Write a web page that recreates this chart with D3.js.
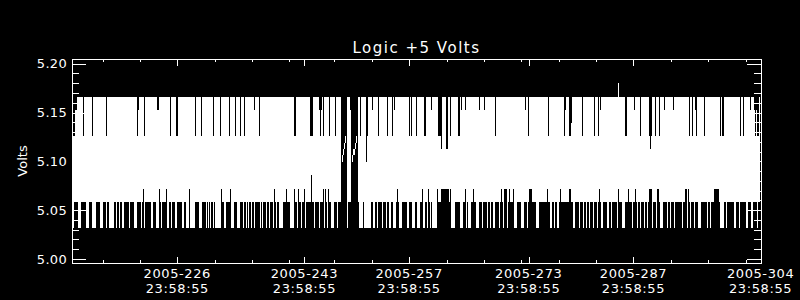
<!DOCTYPE html>
<html lang="en">
<head>
<meta charset="UTF-8">
<title>Logic +5 Volts</title>
<script src="https://d3js.org/d3.v7.min.js"></script>
<style>
  html, body { margin: 0; padding: 0; background: #000; }
  svg { display: block; background: #000; }
  text { fill: #fff; font-family: 'DejaVu Sans', sans-serif; }
  .axis line { stroke: #fff; shape-rendering: crispEdges; }
</style>
</head>
<body>
<svg id="chart" width="800" height="300"></svg>
<script>
const chartTitle = "Logic +5 Volts";
const yTitle = "Volts";

// y ticks (volts)
const yTicks = [5.00, 5.05, 5.10, 5.15, 5.20];
const yMinorTicks = [5.01, 5.02, 5.03, 5.04, 5.06, 5.07, 5.08, 5.09,
                     5.11, 5.12, 5.13, 5.14, 5.16, 5.17, 5.18, 5.19];

// x ticks (day of year 2005, fractional)
const xTicks = [226.999, 243.999, 257.999, 273.999, 287.999, 304.999];
const xTickDates = ["2005-226", "2005-243", "2005-257", "2005-273", "2005-287", "2005-304"];
const xTickTimes = ["23:58:55", "23:58:55", "23:58:55", "23:58:55", "23:58:55", "23:58:55"];
const xMinorTicks = [217, 222, 232, 237, 242, 248, 253, 263, 268, 273, 278, 283, 293, 298, 303];

// A/D quantisation levels of the +5 V monitor and their codes
const levelCodes = ["0", "1", "2", "3", "4", "5", "6", "7", "8", "9", "a", "b", "p", "q", "r"];
const levelVolts = [5.032, 5.045, 5.058, 5.072, 5.086, 5.099, 5.113, 5.126, 5.139, 5.153, 5.166, 5.180,
                    5.092, 5.106, 5.119];

// binned samples: one bin per ~3.2 h, first bin centre and width in days
const binStart = 213.1206;
const binWidth = 0.13372;

// highest reading in each bin ("." = no data)
const binMax = (
  "7799aaaaaa 7aaaaaaaa7 aaaaaaaaaa aaa7aaaaaa aaaaaaaaaa aaaaaaaaaa aaaa79aaaa a7aaaaaaaa " +
  "aaaa99aaaa aaaaaaa7aa aaa77aaaaa aaaaaaaaaa aa7aaaaa7a aaaaaaaaaa 7aaaaaa7aa aaaaaa7aaa " +
  "aa7aaaa7aa a7aaaaaaaa a9aaaa7aaa aaaaaaaaaa aaaaaaaaaa aaaaaaaaaa a77aaaaaaa aaaaaaa777 " +
  "aaaaaa979a 7aaaaa7aaa aa7aaaaa.q 6r7.aaa9.q 66r7.aa7aa aaa57aaaa9 aaaaa7aaaa aaaa7aaaa7 " +
  "a9aaaaaaaa aaaaaa7a7a aaa7aaaaaa a77aaaaa9a aaaaa7776a aaa66aa7aa aaaaa77a9a aa9aaaaaaa " +
  "aaaaaa9aaa a9aaaaaaaa aa7aaaaaaa aaaaaaaaaa aaaaaaaaaa aa9aa7aaaa aaaaaaaaaa aaaaa7aaaa " +
  "aaaaaaaaaa a79aaa778a aaaaaaaaa7 aaaaaaaaaa a7aaa7a9aa aaaaaaaaaa aaaaabaaaa aa77aaaaaa " +
  "a9aaaaa7aa aaaaaa767a aa7aaa7aaa a9aaaaaaaa 9aaaaaaaaa aaaaaa7aa7 aa97aaaaaa a7aaaaaaaa " +
  "aaaaaaa7a7 7aaaaaaaaa aaaaaaa7aa 7aaaaaa9aa a97977a"
).replace(/ /g, "");

// lowest reading in each bin ("." = no data)
const binMin = (
  "0222200022 2220002220 0002222000 2220220000 0220220220 0222220222 2000222202 3022222200 " +
  "2220003202 2223002202 2200222220 0220003000 0022220002 2220202022 0200000032 2002222300 " +
  "0222000222 0220202202 2022222020 2220220222 0320220000 2223222000 0322032202 2302222242 " +
  "2022220222 3032032200 02220222.5 q6r.0222.5 qq6r.20000 2000000022 0022022220 2220220022 " +
  "0002320002 2222002220 0022000223 0022032020 0000322233 3333332300 0022222000 2230200022 " +
  "3220002220 2222022022 0022220232 0333023222 3000222200 0222023332 2220002222 2222322002 " +
  "2022002322 2222223322 0022220222 0220220222 0222023200 2222002202 2222032220 0022232220 " +
  "2232022022 2022023330 2220332000 2222022022 2022222220 2233032022 2022200022 2222022022 " +
  "2333332000 0220222222 2002220222 2220022200 2222022"
).replace(/ /g, "");

const volts = {};
levelCodes.forEach((c, i) => { volts[c] = levelVolts[i]; });

const bins = [];
for (let i = 0; i < Math.min(binMax.length, binMin.length); i++) {
  if (binMax[i] === "." || binMin[i] === ".") continue;
  bins.push({ t: binStart + i * binWidth, hi: volts[binMax[i]], lo: volts[binMin[i]] });
}

const svg = d3.select("#chart");
const margin = { top: 59, right: 39.4, bottom: 37, left: 72 };
const W = 800, H = 300;

const x = d3.scaleLinear().domain([212.92, 305.0]).range([margin.left, W - margin.right]);
const y = d3.scaleLinear().domain([4.9959, 5.2048]).range([H - margin.bottom, margin.top]);

// data: one white column per bin, min to max
svg.append("g")
  .selectAll("rect")
  .data(bins)
  .join("rect")
  .attr("x", d => Math.floor(x(d.t)))
  .attr("y", d => Math.round(y(d.hi)))
  .attr("width", 1)
  .attr("height", d => Math.max(1, Math.round(y(d.lo)) - Math.round(y(d.hi))))
  .attr("fill", "#fff")
  .attr("shape-rendering", "crispEdges");

const x0 = margin.left, x1 = Math.round(W - margin.right);
const yTop = margin.top, yBot = H - margin.bottom;

function noDomain(g) { g.select(".domain").remove(); }

// left axis
svg.append("g").attr("class", "axis").attr("transform", `translate(${x0},0)`)
  .call(d3.axisLeft(y).tickValues(yTicks).tickSize(-14).tickPadding(5).tickFormat(d3.format(".2f")))
  .call(noDomain)
  .call(g => g.selectAll("text").attr("font-size", 13).attr("font-family", "'DejaVu Sans', sans-serif")
    .attr("fill", "#fff").attr("letter-spacing", 0.3));
svg.append("g").attr("class", "axis").attr("transform", `translate(${x0},0)`)
  .call(d3.axisLeft(y).tickValues(yMinorTicks).tickSize(-7).tickFormat(""))
  .call(noDomain);

// right axis
svg.append("g").attr("class", "axis").attr("transform", `translate(${x1},0)`)
  .call(d3.axisRight(y).tickValues(yTicks).tickSize(-14).tickFormat(""))
  .call(noDomain);
svg.append("g").attr("class", "axis").attr("transform", `translate(${x1},0)`)
  .call(d3.axisRight(y).tickValues(yMinorTicks).tickSize(-7).tickFormat(""))
  .call(noDomain);

// bottom axis
svg.append("g").attr("class", "axis").attr("transform", `translate(0,${yBot})`)
  .call(d3.axisBottom(x).tickValues(xTicks).tickSize(-6).tickFormat(""))
  .call(noDomain);
svg.append("g").attr("class", "axis").attr("transform", `translate(0,${yBot})`)
  .call(d3.axisBottom(x).tickValues(xMinorTicks).tickSize(-3).tickFormat(""))
  .call(noDomain);

// top axis
svg.append("g").attr("class", "axis").attr("transform", `translate(0,${yTop})`)
  .call(d3.axisTop(x).tickValues(xTicks).tickSize(-7).tickFormat(""))
  .call(noDomain);
svg.append("g").attr("class", "axis").attr("transform", `translate(0,${yTop})`)
  .call(d3.axisTop(x).tickValues(xMinorTicks).tickSize(-3).tickFormat(""))
  .call(noDomain);

// frame
svg.append("rect")
  .attr("x", x0 + 0.5).attr("y", yTop + 0.5)
  .attr("width", x1 - x0).attr("height", yBot - yTop)
  .attr("fill", "none").attr("stroke", "#fff").attr("stroke-width", 1)
  .attr("shape-rendering", "crispEdges");

// x tick labels, two lines
const xl = svg.append("g").selectAll("text").data(xTicks).join("text")
  .attr("x", d => x(d))
  .attr("text-anchor", "middle")
  .attr("font-size", 13)
  .attr("letter-spacing", 0.6);
xl.append("tspan").attr("x", d => x(d)).attr("y", 278).text((d, i) => xTickDates[i]);
xl.append("tspan").attr("x", d => x(d)).attr("y", 293).text((d, i) => xTickTimes[i]);

// title
svg.append("text")
  .attr("x", (x0 + x1) / 2).attr("y", 53)
  .attr("text-anchor", "middle")
  .attr("font-size", 15)
  .attr("letter-spacing", 1.5)
  .text(chartTitle);

// y title
svg.append("text")
  .attr("transform", `translate(27,${(yTop + yBot) / 2}) rotate(-90)`)
  .attr("text-anchor", "middle")
  .attr("font-size", 13)
  .text(yTitle);
</script>
</body>
</html>
